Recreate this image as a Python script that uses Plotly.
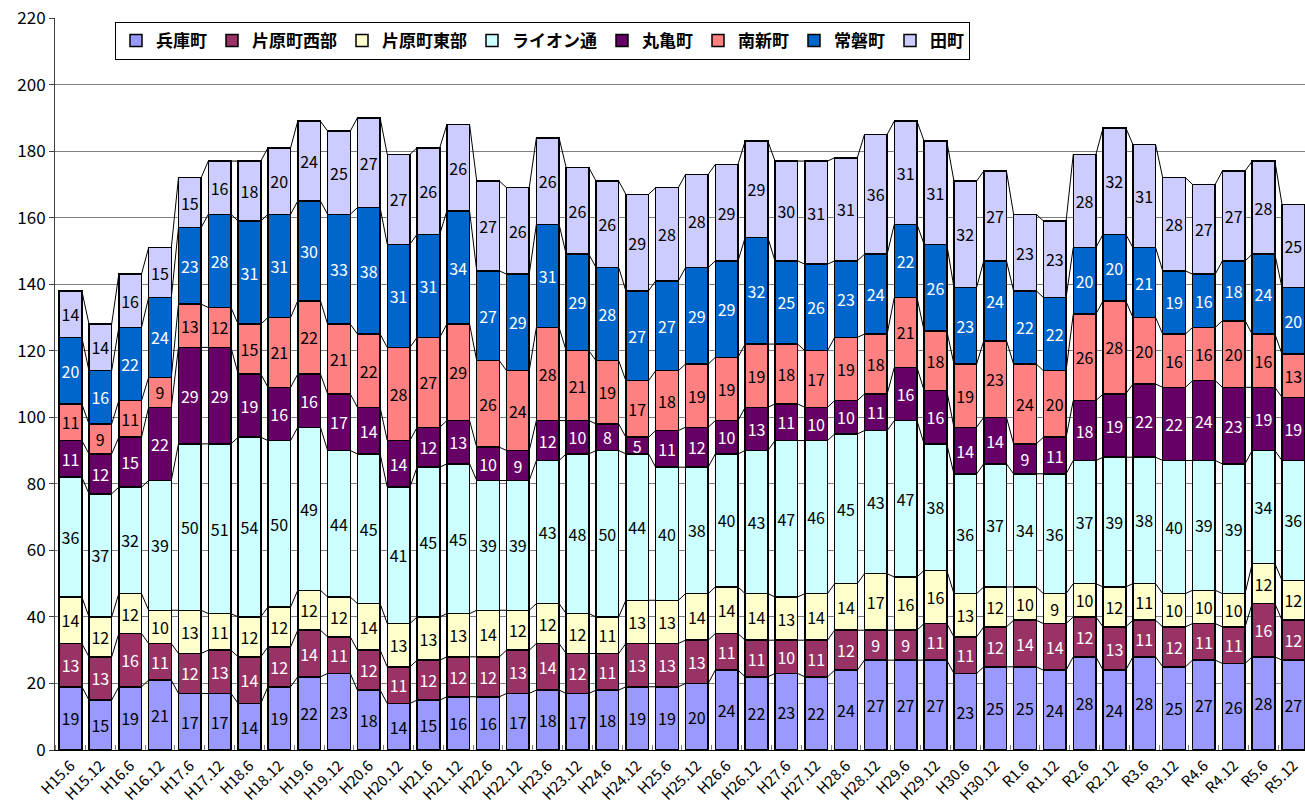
import plotly.graph_objects as go
import numpy as np

categories = ["H15.6","H15.12","H16.6","H16.12","H17.6","H17.12","H18.6","H18.12",
              "H19.6","H19.12","H20.6","H20.12","H21.6","H21.12","H22.6","H22.12",
              "H23.6","H23.12","H24.6","H24.12","H25.6","H25.12","H26.6","H26.12",
              "H27.6","H27.12","H28.6","H28.12","H29.6","H29.12","H30.6","H30.12",
              "R1.6","R1.12","R2.6","R2.12","R3.6","R3.12","R4.6","R4.12","R5.6","R5.12"]

hyogo = [19,15,19,21,17,17,14,19,22,23,18,14,15,16,16,17,18,17,18,19,19,20,24,22,23,22,24,27,27,27,23,25,25,24,28,24,28,25,27,26,28,27]
katahara_west = [13,13,16,11,12,13,14,12,14,11,12,11,12,12,12,13,14,12,11,13,13,13,11,11,10,11,12,9,9,11,11,12,14,14,12,13,11,12,11,11,16,12]
katahara_east = [14,12,12,10,13,11,12,12,12,12,14,13,13,13,14,12,12,12,11,13,13,14,14,14,13,14,14,17,16,16,13,12,10,9,10,12,11,10,10,10,12,12]
lion = [36,37,32,39,50,51,54,50,49,44,45,41,45,45,39,39,43,48,50,44,40,38,40,43,47,46,45,43,47,38,36,37,34,36,37,39,38,40,39,39,34,36]
marugame = [11,12,15,22,29,29,19,16,16,17,14,14,12,13,10,9,12,10,8,5,11,12,10,13,11,10,10,11,16,16,14,14,9,11,18,19,22,22,24,23,19,19]
minamishin = [11,9,11,9,13,12,15,21,22,21,22,28,27,29,26,24,28,21,19,17,18,19,19,19,18,17,19,18,21,18,19,23,24,20,26,28,20,16,16,20,16,13]
tokiwa = [20,16,22,24,23,28,31,31,30,33,38,31,31,34,27,29,31,29,28,27,27,29,29,32,25,26,23,24,22,26,23,24,22,22,20,20,21,19,16,18,24,20]
tamachi = [14,14,16,15,15,16,18,20,24,25,27,27,26,26,27,26,26,26,26,29,28,28,29,29,30,31,31,36,31,31,32,27,23,23,28,32,31,28,27,27,28,25]

series = [
    ("兵庫町", hyogo, "#9999FF", "black"),
    ("片原町西部", katahara_west, "#993366", "white"),
    ("片原町東部", katahara_east, "#FFFFCC", "black"),
    ("ライオン通", lion, "#CCFFFF", "black"),
    ("丸亀町", marugame, "#660066", "white"),
    ("南新町", minamishin, "#FF8080", "black"),
    ("常磐町", tokiwa, "#0066CC", "white"),
    ("田町", tamachi, "#CCCCFF", "black"),
]

FONT = "Noto Sans CJK JP"
bar_w = 0.76
x = np.arange(len(categories))

fig = go.Figure()
for name, vals, color, tcolor in series:
    fig.add_trace(go.Bar(
        x=x, y=vals, name=name, width=bar_w,
        marker=dict(color=color, line=dict(color="black", width=1.5)),
        text=vals, textposition="inside", insidetextanchor="middle",
        textangle=0, textfont=dict(color=tcolor, size=16, family=FONT),
        hoverinfo="skip",
    ))

# series connector lines (Excel style), derived from cumulative sums
cum = np.zeros(len(categories))
lx, ly = [], []
for name, vals, color, tcolor in series:
    cum = cum + np.array(vals)
    for i in range(len(categories) - 1):
        lx += [x[i] + bar_w / 2, x[i + 1] - bar_w / 2, None]
        ly += [cum[i], cum[i + 1], None]
fig.add_trace(go.Scatter(x=lx, y=ly, mode="lines", line=dict(color="black", width=1),
                         showlegend=False, hoverinfo="skip"))

fig.update_layout(
    barmode="stack",
    width=1305, height=809,
    margin=dict(l=55, r=0, t=18, b=59),
    plot_bgcolor="white", paper_bgcolor="white",
    font=dict(family=FONT, size=15, color="black"),
    uniformtext=dict(minsize=16, mode="show"),
    legend=dict(orientation="h", x=0.048, y=0.9945, xanchor="left", yanchor="top",
                bgcolor="white", bordercolor="black", borderwidth=1,
                font=dict(size=17, family=FONT, color="black", weight="bold"),
                traceorder="normal"),
    showlegend=True,
)
fig.update_xaxes(
    range=[-0.52, 41.39], tickmode="array", tickvals=list(x), ticktext=categories,
    tickangle=-45, ticks="", showgrid=False, zeroline=False, automargin=False,
    showline=True, linecolor="black", linewidth=1,
    tickfont=dict(size=15, family=FONT, color="black"),
    minor=dict(tickmode="linear", tick0=-0.5, dtick=1, ticks="inside", ticklen=5,
               tickcolor="#808080", showgrid=False),
)
fig.update_yaxes(
    range=[0, 220], dtick=20, showgrid=True, gridcolor="#808080", gridwidth=1,
    zeroline=False, showline=True, linecolor="#404040", linewidth=1, automargin=False,
    ticks="outside", ticklen=5, tickcolor="#404040",
    tickfont=dict(size=17, family=FONT, color="black"),
)

fig.write_html("out.html", config={"displayModeBar": False},
               post_script="document.body.style.margin='0';document.body.style.overflow='hidden';")
